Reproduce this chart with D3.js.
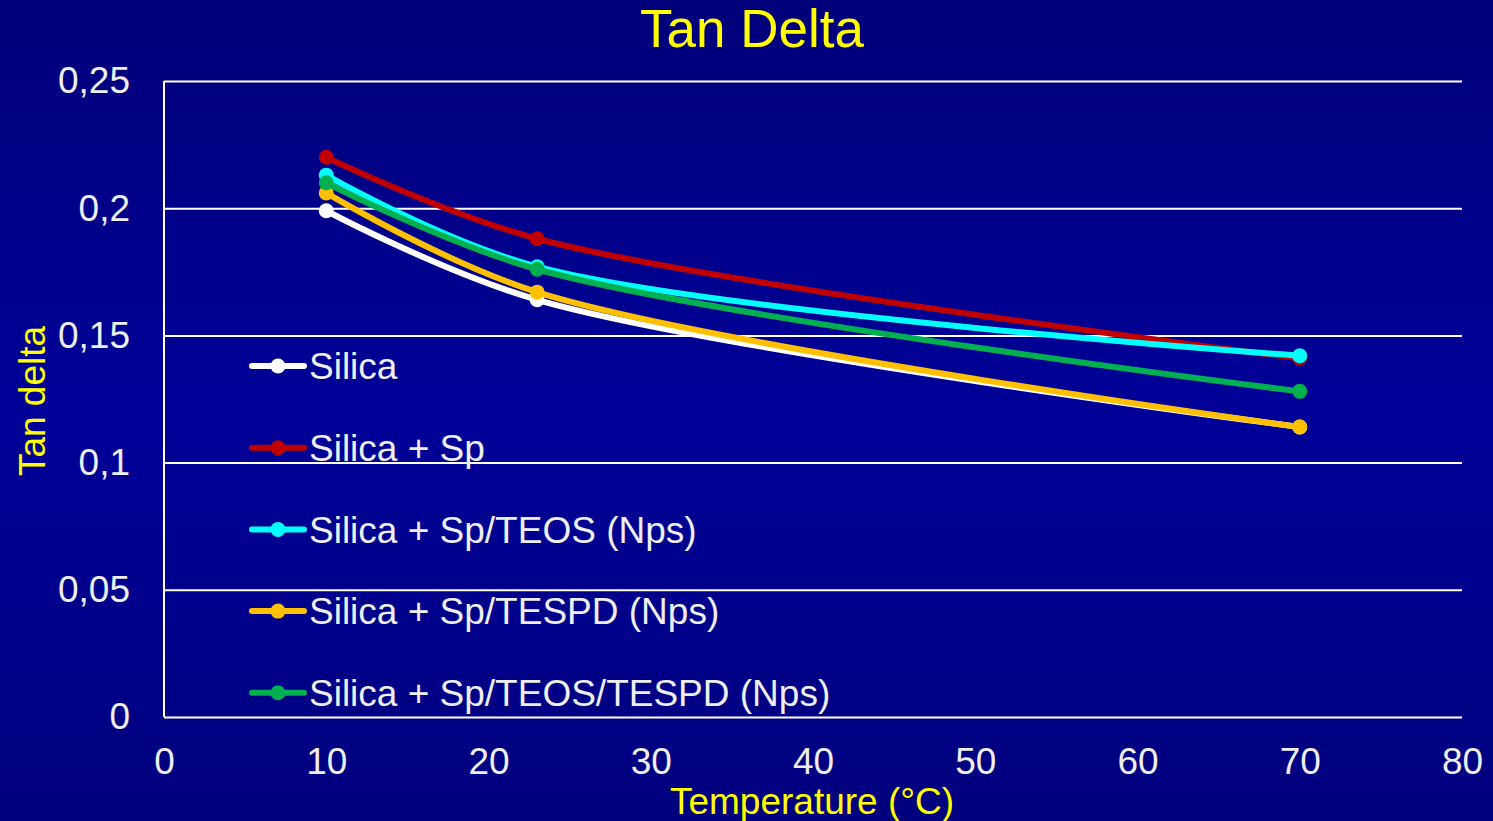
<!DOCTYPE html>
<html>
<head>
<meta charset="utf-8">
<script src="https://cdn.jsdelivr.net/npm/d3@7"></script>
<style>
  html, body { margin: 0; padding: 0; overflow: hidden; }
  svg { display: block; }
  text { font-family: "Liberation Sans", Arial, sans-serif; }
</style>
</head>
<body>
<svg id="chart" width="1493" height="821"></svg>
<script>
// Temperatures (°C) at which tan delta was measured
const temperatures = [10, 23, 70];

// Series names and their tan delta values
const seriesNames = [
  "Silica",
  "Silica + Sp",
  "Silica + Sp/TEOS (Nps)",
  "Silica + Sp/TESPD (Nps)",
  "Silica + Sp/TEOS/TESPD (Nps)"
];
const silica        = [0.199, 0.164, 0.114];
const silicaSp      = [0.220, 0.188, 0.141];
const silicaTeos    = [0.213, 0.177, 0.142];
const silicaTespd   = [0.206, 0.167, 0.114];
const silicaTeosTespd = [0.210, 0.176, 0.128];
const seriesColors = ["#ffffff", "#c00000", "#00ffff", "#ffc000", "#00b050"];

const xTicks = [0, 10, 20, 30, 40, 50, 60, 70, 80];
const yTicks = [0, 0.05, 0.1, 0.15, 0.2, 0.25];

const seriesValues = [silica, silicaSp, silicaTeos, silicaTespd, silicaTeosTespd];
const series = seriesNames.map((name, i) => ({
  name,
  color: seriesColors[i],
  points: temperatures.map((t, j) => ({ t, v: seriesValues[i][j] }))
}));

const W = 1493, H = 821;
const svg = d3.select("#chart");

// Background gradient
const defs = svg.append("defs");
const grad = defs.append("linearGradient").attr("id", "bg")
  .attr("x1", 0).attr("y1", 0).attr("x2", 0).attr("y2", 1);
grad.append("stop").attr("offset", "0%").attr("stop-color", "#00007a");
grad.append("stop").attr("offset", "50%").attr("stop-color", "#000098");
grad.append("stop").attr("offset", "100%").attr("stop-color", "#00007e");
svg.append("rect").attr("width", W).attr("height", H).attr("fill", "url(#bg)");

const plot = { left: 164, right: 1462, top: 81, bottom: 717 };
const x = d3.scaleLinear().domain([0, 80]).range([plot.left, plot.right]);
const y = d3.scaleLinear().domain([0, 0.25]).range([plot.bottom, plot.top]);

const fmt = d => String(+d.toFixed(2)).replace(".", ",");
const FS = 37;

// Gridlines + y tick labels
const yAxis = svg.append("g")
  .attr("transform", `translate(${plot.left},0)`)
  .call(d3.axisLeft(y).tickValues(yTicks).tickFormat(fmt)
    .tickSize(-(plot.right - plot.left)).tickPadding(34));
yAxis.select(".domain").remove();
yAxis.selectAll(".tick line").attr("stroke", "#ffffff").attr("stroke-width", 2);
yAxis.selectAll(".tick text")
  .attr("fill", "#eeeeee").attr("font-size", FS)
  .attr("font-family", "Liberation Sans, Arial, sans-serif");

// Left axis line
svg.append("line")
  .attr("x1", plot.left).attr("x2", plot.left)
  .attr("y1", plot.top).attr("y2", plot.bottom)
  .attr("stroke", "#ffffff").attr("stroke-width", 2);

// X axis labels
const xAxis = svg.append("g")
  .attr("transform", `translate(0,${plot.bottom})`)
  .call(d3.axisBottom(x).tickValues(xTicks).tickFormat(d3.format("d"))
    .tickSize(0).tickPadding(31));
xAxis.select(".domain").remove();
xAxis.selectAll(".tick text")
  .attr("fill", "#eeeeee").attr("font-size", FS)
  .attr("font-family", "Liberation Sans, Arial, sans-serif");

// Series lines
const line = d3.line()
  .x(d => x(d.t)).y(d => y(d.v))
  .curve(d3.curveCatmullRom.alpha(0.5));

const gSeries = svg.append("g");
series.forEach(s => {
  const g = gSeries.append("g");
  g.append("path")
    .datum(s.points)
    .attr("d", line)
    .attr("fill", "none")
    .attr("stroke", s.color)
    .attr("stroke-width", 6)
    .attr("stroke-linecap", "round")
    .attr("stroke-linejoin", "round");
  g.selectAll("circle").data(s.points).join("circle")
    .attr("cx", d => x(d.t)).attr("cy", d => y(d.v))
    .attr("r", 7.5).attr("fill", s.color);
});

// Legend
const legend = svg.append("g");
series.forEach((s, i) => {
  const ly = 366 + i * 81.7;
  const g = legend.append("g").attr("transform", `translate(0,${ly})`);
  g.append("line").attr("x1", 252).attr("x2", 304).attr("y1", 0).attr("y2", 0)
    .attr("stroke", s.color).attr("stroke-width", 6).attr("stroke-linecap", "round");
  g.append("circle").attr("cx", 278).attr("cy", 0).attr("r", 7.5).attr("fill", s.color);
  g.append("text").attr("x", 309).attr("y", 0).attr("dy", "0.36em")
    .attr("fill", "#eeeeee").attr("font-size", FS).text(s.name);
});

// Title
svg.append("text").attr("x", 752).attr("y", 47)
  .attr("text-anchor", "middle").attr("fill", "#ffff00")
  .attr("font-size", 53).text("Tan Delta");

// Axis titles
svg.append("text").attr("x", 812).attr("y", 814)
  .attr("text-anchor", "middle").attr("fill", "#ffff00")
  .attr("font-size", FS).text("Temperature (°C)");

svg.append("text")
  .attr("transform", "translate(45,401) rotate(-90)")
  .attr("text-anchor", "middle").attr("fill", "#ffff00")
  .attr("font-size", FS).text("Tan delta");
</script>
</body>
</html>
